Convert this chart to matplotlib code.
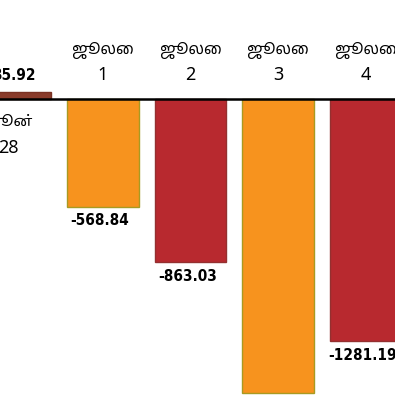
import matplotlib
matplotlib.use("Agg")
import matplotlib.pyplot as plt
from matplotlib import font_manager

# data
months = ["ஜூன்", "ஜூலை", "ஜூலை", "ஜூலை", "ஜூலை"]
days = ["28", "1", "2", "3", "4"]
values = [35.92, -568.84, -863.03, -1551.4, -1281.19]
colors = ["#8a3b2b", "#f7931e", "#b8292f", "#f7931e", "#b8292f"]
edges = ["#7a3224", "#a89a22", "#943030", "#a89a22", "#943030"]

fonts = font_manager.fontManager.ttflist
names = {f.name for f in fonts}
tamil = [f for f in ["Noto Sans Tamil", "Lohit Tamil", "Noto Sans", "DejaVu Sans"] if f in names]

# look for a narrow bold face for the value labels
narrow = None
for f in fonts:
    low = f.name.lower()
    if ("narrow" in low or "condensed" in low or str(f.stretch) in ("condensed", "semi-condensed")) \
            and f.weight in (600, 700, 800, 900, "bold"):
        narrow = f.fname
        break
if narrow:
    num_kw = dict(fontproperties=font_manager.FontProperties(fname=narrow, size=11))
else:
    num_kw = dict(family=["Roboto", "DejaVu Sans"], weight="bold", fontsize=10.5)

fig = plt.figure(figsize=(3.95, 3.95), dpi=100)
ax = fig.add_axes([0, 0, 1, 1])

x = list(range(len(values)))
ax.bar(x, values, width=0.82, color=colors, edgecolor=edges, linewidth=1.0, zorder=2)
ax.axhline(0, color="black", linewidth=1.8, zorder=3)

ax.set_xlim(-0.177, 4.337)
ax.set_ylim(-1564, 523)
ax.axis("off")

px = 1 / 0.1893  # data units per pixel
dx = 1 / 87.5    # x units per pixel
for i, v in enumerate(values):
    if v >= 0:
        # positive: value above bar, category label below axis
        ax.text(i - 2 * dx, v + 17 * px, f"{v:.2f}", ha="center", va="center", **num_kw)
        ax.text(i - 7 * dx, -23 * px, months[i], ha="center", va="center",
                family=tamil, fontsize=11)
        ax.text(i - 7 * dx, -49 * px, days[i], ha="center", va="center",
                family=tamil, fontsize=13)
    else:
        ax.text(i - 3 * dx, v - 14 * px, f"{v:.2f}", ha="center", va="center", **num_kw)
        ax.text(i, 48 * px, months[i], ha="center", va="center",
                family=tamil, fontsize=11)
        ax.text(i, 24 * px, days[i], ha="center", va="center",
                family=tamil, fontsize=13)

fig.savefig("out.png", dpi=100)
